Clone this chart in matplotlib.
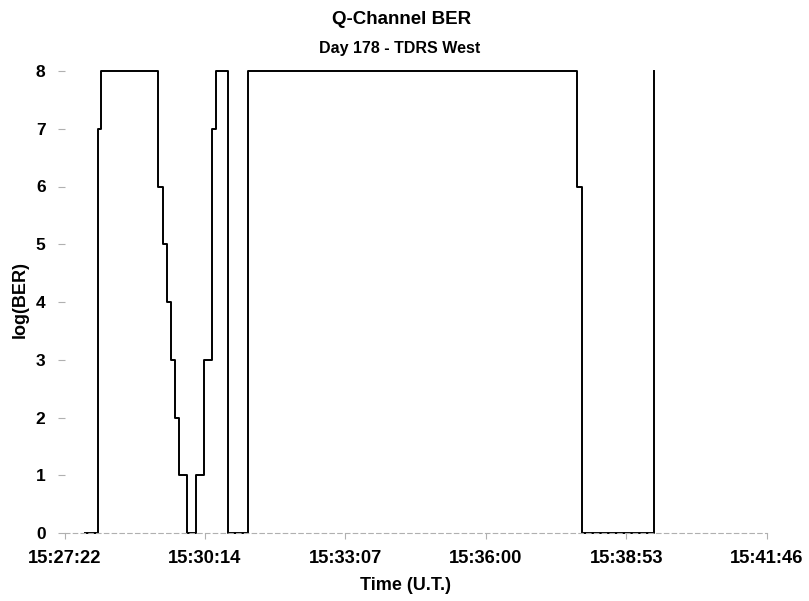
import matplotlib.pyplot as plt
from matplotlib.ticker import FuncFormatter

plt.rcParams['font.family'] = ['Liberation Sans', 'DejaVu Sans']
plt.rcParams['font.weight'] = 'bold'

# Q-channel log(BER) samples, each value holds until the next time stamp
times = ["15:27:47", "15:28:03", "15:28:06", "15:29:17", "15:29:22", "15:29:27",
         "15:29:32", "15:29:37", "15:29:42", "15:29:52", "15:30:03", "15:30:13",
         "15:30:23", "15:30:28", "15:30:42", "15:31:07", "15:37:52", "15:37:58",
         "15:39:27"]
log_ber = [0, 7, 8, 6, 5, 4, 3, 2, 1, 0, 1, 3, 7, 8, 0, 8, 6, 0, 8]

tick_labels = ["15:27:22", "15:30:14", "15:33:07", "15:36:00", "15:38:53", "15:41:46"]
y_ticks = [0, 1, 2, 3, 4, 5, 6, 7, 8]


def secs(s):
    h, m, sec = (int(v) for v in s.split(":"))
    return h * 3600 + m * 60 + sec


def hms(x, pos=None):
    x = int(x)
    return f"{x // 3600:02d}:{x % 3600 // 60:02d}:{x % 60:02d}"


t = [secs(s) for s in times]
xt = [secs(s) for s in tick_labels]

fig = plt.figure(figsize=(8.09, 6.01), dpi=100)
ax = fig.add_axes([65 / 809, 1 - 533 / 601, (767 - 65) / 809, (533 - 71) / 601])

ax.plot(t, log_ber, drawstyle="steps-post", color="black", linewidth=1.4,
        clip_on=False)

ax.set_xlim(xt[0], xt[-1])
ax.set_ylim(0, 8)
ax.set_xticks(xt)
ax.xaxis.set_major_formatter(FuncFormatter(hms))
ax.set_yticks(y_ticks)

for sp in ["top", "right", "left"]:
    ax.spines[sp].set_visible(False)
ax.spines["bottom"].set_color("#b0b0b0")
ax.spines["bottom"].set_linestyle((0, (4, 3)))
ax.spines["bottom"].set_linewidth(0.8)

ax.tick_params(axis="x", direction="out", length=4, width=0.8, color="#b0b0b0",
               labelsize=13.2, pad=8)
ax.tick_params(axis="y", direction="out", length=5, width=0.8, color="#b0b0b0",
               labelsize=12.5, pad=9)
for lbl in ax.get_xticklabels() + ax.get_yticklabels():
    lbl.set_fontweight("bold")

fig.text(20 / 809, 1 - 300 / 601, "log(BER)", rotation=90, ha="center",
         va="center", fontsize=13, fontweight="bold")
fig.text(405 / 809, 1 - 586 / 601, "Time (U.T.)", ha="center", va="center",
         fontsize=13, fontweight="bold")
fig.text(402 / 809, 1 - 20 / 601, "Q-Channel BER", ha="center", va="center",
         fontsize=13.5, fontweight="bold")
fig.text(400 / 809, 1 - 48 / 601, "Day 178 - TDRS West", ha="center",
         va="center", fontsize=11.5, fontweight="bold")

fig.savefig("out.png", dpi=100)
